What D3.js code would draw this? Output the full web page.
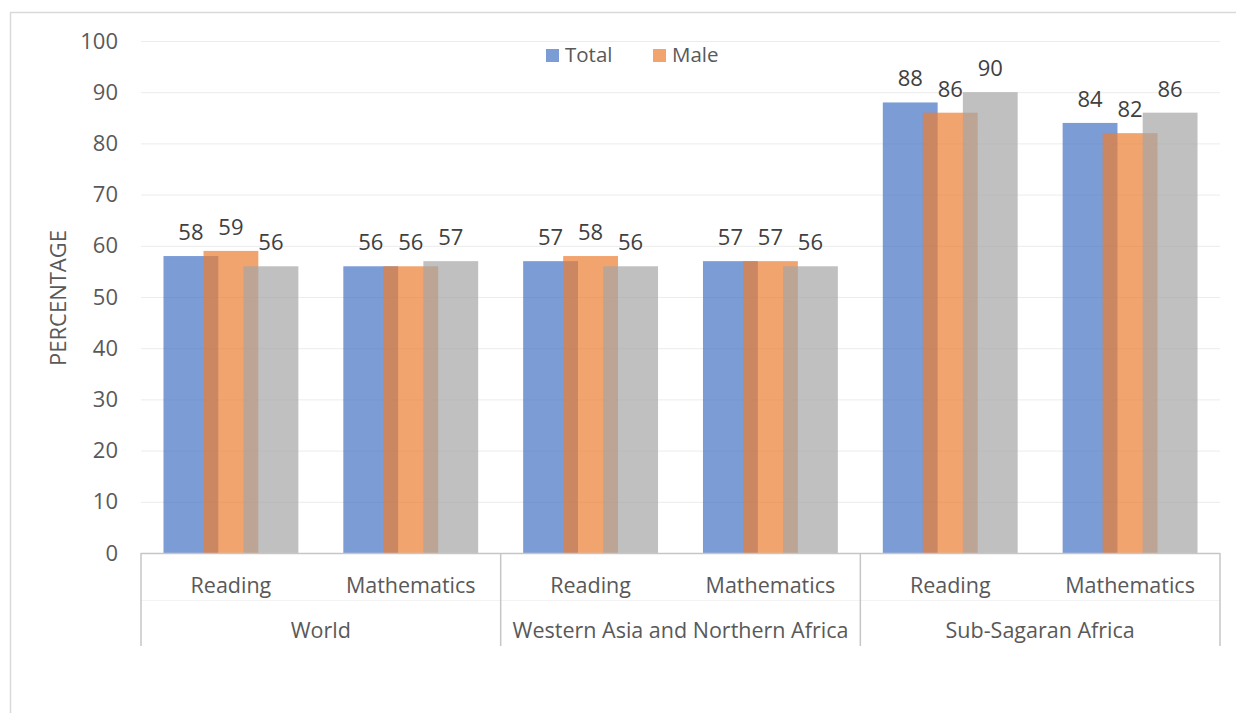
<!DOCTYPE html>
<html>
<head>
<meta charset="utf-8">
<style>
body { margin: 0; background: #fff; }
text { font-family: "Open Sans", sans-serif; }
.grid line { stroke: #ececec; stroke-width: 1; }
.grid path { display: none; }
.yaxis path, .yaxis line { display: none; }
.yaxis text { fill: #595959; font-size: 22px; }
</style>
<script src="https://d3js.org/d3.v7.min.js"></script>
</head>
<body>
<div id="chart"></div>
<script>

var groups = ['World', 'Western Asia and Northern Africa', 'Sub-Sagaran Africa'];
var subjects = ['Reading', 'Mathematics'];
var seriesNames = ['Total', 'Male', 'Female'];
var legendNames = ['Total', 'Male'];
var colors = ['#4472C4', '#ED7D31', '#A5A5A5'];

// values per group, in order Reading, Mathematics
var total  = [58, 56, 57, 57, 88, 84];
var male   = [59, 56, 58, 57, 86, 82];
var female = [56, 57, 56, 56, 90, 86];
var yTicks = [0, 10, 20, 30, 40, 50, 60, 70, 80, 90, 100];

var W = 1236, H = 713;
var margin = {top: 41, right: 16, bottom: 160, left: 141};
var width = W - margin.left - margin.right,
    height = H - margin.top - margin.bottom;

var svg = d3.select('#chart').append('svg')
	.attr('width', W)
	.attr('height', H);

// outer chart border (right and bottom edges fall outside the picture)
svg.append('rect')
	.attr('x', 10.5).attr('y', 12.5)
	.attr('width', 1300).attr('height', 800)
	.attr('fill', 'none').attr('stroke', '#d9d9d9').attr('stroke-width', 1.5);

var g = svg.append('g')
	.attr('transform', 'translate(' + margin.left + ',' + margin.top + ')');

var y = d3.scaleLinear().domain([0, 100]).range([height, 0]);

var x0 = d3.scaleBand().domain(groups).range([0, width]);
var x1 = d3.scaleBand().domain(subjects).range([0, x0.bandwidth()]);

// bar layout inside one subject band: cluster 75% of band, bars overlap 27%
var cluster = x1.bandwidth() * 0.75;
var overlap = 0.27;
var barW = cluster / (1 + (seriesNames.length - 1) * (1 - overlap));
var step = barW * (1 - overlap);
var xs = d3.scaleLinear().domain([0, seriesNames.length - 1])
	.range([(x1.bandwidth() - cluster) / 2, (x1.bandwidth() - cluster) / 2 + 2 * step]);

g.append('g')
	.attr('class', 'grid')
	.call(d3.axisLeft(y).tickValues(yTicks).tickSize(-width).tickFormat(''));

g.append('g')
	.attr('class', 'yaxis')
	.attr('transform', 'translate(-15,0)')
	.call(d3.axisLeft(y).tickValues(yTicks).tickSize(0).tickPadding(8));

var rows = [];
groups.forEach(function(gr, gi) {
	subjects.forEach(function(s, si) {
		var i = gi * subjects.length + si;
		rows.push({group: gr, subject: s, values: [total[i], male[i], female[i]]});
	});
});

seriesNames.forEach(function(name, k) {
	g.selectAll('.bar' + k)
		.data(rows)
		.enter().append('rect')
			.attr('class', 'bar' + k)
			.attr('x', function(d) { return x0(d.group) + x1(d.subject) + xs(k); })
			.attr('y', function(d) { return y(d.values[k]); })
			.attr('width', barW)
			.attr('height', function(d) { return height - y(d.values[k]); })
			.attr('fill', colors[k])
			.attr('fill-opacity', 0.7);
});

seriesNames.forEach(function(name, k) {
	g.selectAll('.lab' + k)
		.data(rows)
		.enter().append('text')
			.attr('x', function(d) { return x0(d.group) + x1(d.subject) + xs(k) + barW / 2; })
			.attr('y', function(d) { return y(d.values[k]) - 16; })
			.attr('text-anchor', 'middle')
			.attr('fill', '#404040')
			.style('font-size', '22px')
			.text(function(d) { return d.values[k]; });
});

// category axis: baseline, group dividers, two label rows
g.append('line')
	.attr('x1', 0).attr('x2', width)
	.attr('y1', height + 0.5).attr('y2', height + 0.5)
	.attr('stroke', '#c6c6c6').attr('stroke-width', 1.5);

g.append('line')
	.attr('x1', 0).attr('x2', width)
	.attr('y1', height + 47.5).attr('y2', height + 47.5)
	.attr('stroke', '#f3f3f3').attr('stroke-width', 1);

var dividers = groups.map(function(d) { return x0(d); }).concat([width]);
g.selectAll('.div')
	.data(dividers)
	.enter().append('line')
		.attr('x1', function(d) { return d; }).attr('x2', function(d) { return d; })
		.attr('y1', height).attr('y2', height + 93)
		.attr('stroke', '#c6c6c6').attr('stroke-width', 1.5);

g.selectAll('.sub')
	.data(rows)
	.enter().append('text')
		.attr('x', function(d) { return x0(d.group) + x1(d.subject) + x1.bandwidth() / 2; })
		.attr('y', height + 40)
		.attr('text-anchor', 'middle')
		.attr('fill', '#595959')
		.style('font-size', '21.5px')
		.text(function(d) { return d.subject; });

g.selectAll('.grp')
	.data(groups)
	.enter().append('text')
		.attr('x', function(d) { return x0(d) + x0.bandwidth() / 2; })
		.attr('y', height + 85)
		.attr('text-anchor', 'middle')
		.attr('fill', '#595959')
		.style('font-size', '21.5px')
		.text(function(d) { return d; });

// y axis title
svg.append('text')
	.attr('transform', 'translate(66,298) rotate(-90)')
	.attr('text-anchor', 'middle')
	.attr('fill', '#595959')
	.style('font-size', '22px')
	.text('PERCENTAGE');

// legend
var legend = svg.append('g').attr('transform', 'translate(546,49)');
var lx = [0, 107];
legendNames.forEach(function(name, k) {
	legend.append('rect')
		.attr('x', lx[k]).attr('y', 0)
		.attr('width', 13).attr('height', 13)
		.attr('fill', colors[k]).attr('fill-opacity', 0.7);
	legend.append('text')
		.attr('x', lx[k] + 19).attr('y', 13)
		.attr('fill', '#595959')
		.style('font-size', '20.5px')
		.text(name);
});

</script>
</body>
</html>
